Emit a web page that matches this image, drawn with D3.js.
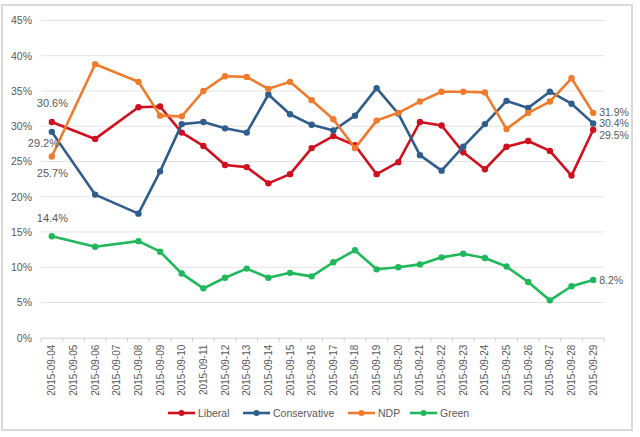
<!DOCTYPE html>
<html>
<head>
<meta charset="utf-8">
<script src="https://cdn.jsdelivr.net/npm/d3@7"></script>
<style>
  body { margin: 0; background: #fff; }
  svg text { font-family: "Liberation Sans", Arial, sans-serif; fill: #595959; }
</style>
</head>
<body>
<svg id="chart" width="640" height="437"></svg>
<script>
// dates on the axis (some days have no poll)
const dates = ['2015-09-04','2015-09-05','2015-09-06','2015-09-07','2015-09-08','2015-09-09',
  '2015-09-10','2015-09-11','2015-09-12','2015-09-13','2015-09-14','2015-09-15','2015-09-16',
  '2015-09-17','2015-09-18','2015-09-19','2015-09-20','2015-09-21','2015-09-22','2015-09-23',
  '2015-09-24','2015-09-25','2015-09-26','2015-09-27','2015-09-28','2015-09-29'];

const liberal = [30.6, null, 28.2, null, 32.7, 32.8, 29.1, 27.2, 24.5, 24.2, 21.9, 23.2, 26.9,
  28.6, 27.3, 23.2, 24.9, 30.6, 30.1, 26.3, 23.9, 27.1, 27.9, 26.5, 23.0, 29.5];
const conservative = [29.2, null, 20.3, null, 17.6, 23.6, 30.3, 30.6, 29.7, 29.1, 34.5, 31.7, 30.2,
  29.4, 31.5, 35.4, 31.8, 25.9, 23.7, 27.1, 30.3, 33.6, 32.6, 34.9, 33.2, 30.4];
const ndp = [25.7, null, 38.8, null, 36.3, 31.5, 31.4, 35.0, 37.1, 37.0, 35.3, 36.3, 33.7,
  31.0, 26.9, 30.8, 31.9, 33.5, 34.9, 34.9, 34.8, 29.6, 31.9, 33.5, 36.8, 31.9];
const green = [14.4, null, 12.9, null, 13.7, 12.2, 9.1, 7.0, 8.5, 9.8, 8.5, 9.2, 8.7,
  10.7, 12.4, 9.7, 10.0, 10.4, 11.4, 11.9, 11.3, 10.1, 7.9, 5.3, 7.3, 8.2];

const yTicks = [0, 5, 10, 15, 20, 25, 30, 35, 40, 45];

const series = [
  { name: 'Liberal', values: liberal, color: '#d0101f' },
  { name: 'Conservative', values: conservative, color: '#2f5d8c' },
  { name: 'NDP', values: ndp, color: '#ef7b2d' },
  { name: 'Green', values: green, color: '#1fb85a' }
];

const svg = d3.select('#chart');

// outer frame
svg.append('rect')
  .attr('x', 2).attr('y', 5).attr('width', 630).attr('height', 425)
  .attr('fill', 'none').attr('stroke', '#d9d9d9').attr('stroke-width', 2);

const x = d3.scaleBand().domain(dates).range([41, 604]);
const y = d3.scaleLinear().domain([0, 45]).range([337.7, 20.5]);
const cx = d => x(d) + x.bandwidth() / 2;

// gridlines
svg.append('g')
  .selectAll('line')
  .data(yTicks.filter(t => t > 0))
  .enter()
  .append('line')
  .attr('x1', 41).attr('x2', 604)
  .attr('y1', d => y(d)).attr('y2', d => y(d))
  .attr('stroke', '#e3e3e3').attr('stroke-width', 1);

// y axis labels
const yAxis = svg.append('g')
  .attr('transform', 'translate(32,0)')
  .call(d3.axisLeft(y).tickValues(yTicks).tickSize(0).tickPadding(0).tickFormat(d => d + '%'));
yAxis.select('.domain').remove();
yAxis.selectAll('text').attr('font-size', 10.5).style('fill', '#595959');

// x axis
const xAxis = svg.append('g')
  .attr('transform', 'translate(0,337.7)')
  .call(d3.axisBottom(x).tickSize(0).tickPadding(0));
xAxis.select('.domain').attr('stroke', '#d0d0d0');
xAxis.selectAll('text')
  .attr('font-size', 10)
  .attr('transform', 'rotate(-90)')
  .attr('text-anchor', 'end')
  .attr('x', -7)
  .attr('y', 0)
  .attr('dy', '0.35em')
  .style('fill', '#595959');

// category boundary ticks
svg.append('g')
  .selectAll('line')
  .data(dates.concat(['end']))
  .enter()
  .append('line')
  .attr('x1', (d, i) => 41 + i * x.step())
  .attr('x2', (d, i) => 41 + i * x.step())
  .attr('y1', 337.7).attr('y2', 342)
  .attr('stroke', '#d0d0d0');

const line = d3.line()
  .defined(d => d.v !== null)
  .x(d => cx(d.date))
  .y(d => y(d.v));

series.forEach(s => {
  const pts = s.values.map((v, i) => ({ date: dates[i], v: v })).filter(d => d.v !== null);
  const g = svg.append('g');
  g.append('path')
    .datum(pts)
    .attr('d', line)
    .attr('fill', 'none')
    .attr('stroke', s.color)
    .attr('stroke-width', 2.6)
    .attr('stroke-linejoin', 'round');
  g.selectAll('circle')
    .data(pts)
    .enter()
    .append('circle')
    .attr('cx', d => cx(d.date))
    .attr('cy', d => y(d.v))
    .attr('r', 3.2)
    .attr('fill', s.color);
});

// data labels at the ends
const firstLabels = [
  { v: liberal[0], dx: -15, dy: -15 },
  { v: conservative[0], dx: -24, dy: 15 },
  { v: ndp[0], dx: -15, dy: 20 },
  { v: green[0], dx: -15, dy: -14 }
];
svg.append('g')
  .selectAll('text')
  .data(firstLabels)
  .enter()
  .append('text')
  .attr('x', d => cx(dates[0]) + d.dx)
  .attr('y', d => y(d.v) + d.dy)
  .attr('font-size', 11)
  .text(d => d.v.toFixed(1) + '%');

const last = dates.length - 1;
const lastLabels = [
  { v: ndp[last], dy: -0.5 },
  { v: conservative[last], dy: 0 },
  { v: liberal[last], dy: 5.5 },
  { v: green[last], dy: 0 }
];
svg.append('g')
  .selectAll('text')
  .data(lastLabels)
  .enter()
  .append('text')
  .attr('x', cx(dates[last]) + 6)
  .attr('y', d => y(d.v) + d.dy)
  .attr('dy', '0.35em')
  .attr('font-size', 10.5)
  .text(d => d.v.toFixed(1) + '%');

// legend
const legendX = [168, 243, 348, 410];
const legend = svg.append('g')
  .selectAll('g')
  .data(series)
  .enter()
  .append('g')
  .attr('transform', (d, i) => 'translate(' + legendX[i] + ',413)');
legend.append('line')
  .attr('x1', 0).attr('x2', 27)
  .attr('stroke', d => d.color).attr('stroke-width', 2.6);
legend.append('circle')
  .attr('cx', 13.5).attr('r', 3).attr('fill', d => d.color);
legend.append('text')
  .attr('x', 30).attr('dy', '0.35em')
  .attr('font-size', 10.5)
  .text(d => d.name);
</script>
</body>
</html>
